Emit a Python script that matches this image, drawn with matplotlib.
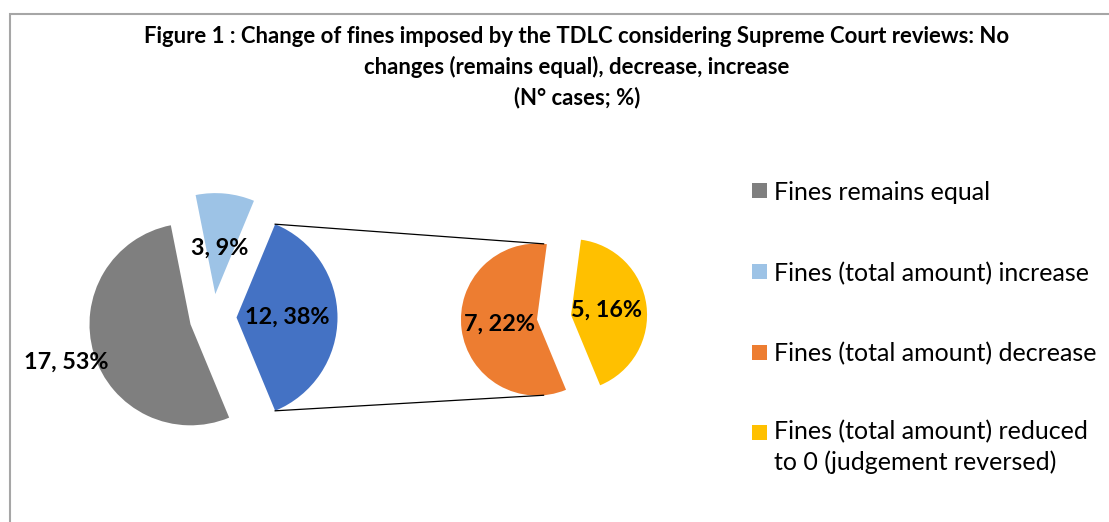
import math
import matplotlib
matplotlib.use('Agg')
import matplotlib.pyplot as plt
from matplotlib.patches import Rectangle

plt.rcParams['font.family'] = ['Lato', 'DejaVu Sans']

# data
categories = ['Fines remains equal',
              'Fines (total amount) increase',
              'Fines (total amount) decrease',
              'Fines (total amount) reduced\nto 0 (judgement reversed)']
cases = [17, 3, 7, 5]
colors = ['#7f7f7f', '#9dc3e6', '#ed7d31', '#ffc000']
other_color = '#4472c4'   # the "other" slice in the first pie = decrease + reduced to 0

total = sum(cases)
main_vals = [cases[0], cases[1], cases[2] + cases[3]]
main_colors = [colors[0], colors[1], other_color]
sub_vals = [cases[2], cases[3]]
sub_colors = [colors[2], colors[3]]


def lab(v):
    return f'{v}, {round(100 * v / total)}%'


W, H = 1109, 522
fig = plt.figure(figsize=(W / 100, H / 100), dpi=100)
ax = fig.add_axes([0, 0, 1, 1])

# first pie, the "other" slice centred on the right side
half_other = 180 * main_vals[2] / total
w_main, _ = ax.pie(main_vals, colors=main_colors, center=(213, H - 317.5), radius=101,
                   explode=[23.5] * 3, startangle=-half_other, counterclock=False,
                   wedgeprops=dict(linewidth=0), frame=True)

# second pie (breakdown of the other slice)
w_sub, _ = ax.pie(sub_vals, colors=sub_colors, center=(554, H - 317.3), radius=76,
                  explode=[17.2] * 2, startangle=82.5, counterclock=True,
                  wedgeprops=dict(linewidth=0), frame=True)

# data labels
def put_labels(wedges, vals, dists):
    for w, v, d in zip(wedges, vals, dists):
        tm = math.radians((w.theta1 + w.theta2) / 2)
        x = w.center[0] + d * w.r * math.cos(tm)
        y = w.center[1] + d * w.r * math.sin(tm)
        ax.text(x, y, lab(v), ha='center', va='center', fontsize=16.8, fontweight='bold')

put_labels(w_main, main_vals, [1.29, 0.46, 0.5])
put_labels(w_sub, sub_vals, [0.5, 0.47])

# connector lines from the other slice to the second pie
blue = w_main[2]
orange = w_sub[0]
for a_blue, a_or in [(max(blue.theta1, blue.theta2), 85), (min(blue.theta1, blue.theta2), 275)]:
    x0 = blue.center[0] + blue.r * math.cos(math.radians(a_blue))
    y0 = blue.center[1] + blue.r * math.sin(math.radians(a_blue))
    x1 = orange.center[0] + orange.r * math.cos(math.radians(a_or))
    y1 = orange.center[1] + orange.r * math.sin(math.radians(a_or))
    ax.plot([x0, x1], [y0, y1], color='black', lw=0.9)

# legend
leg_y = [190, 271.5, 352, 432]
for lbl, c, y in zip(categories, colors, leg_y):
    ax.add_patch(Rectangle((752, H - y - 7.5), 15, 15, color=c, lw=0))
    if '\n' in lbl:
        ax.text(774, H - y - 15, lbl, ha='left', va='center', fontsize=18,
                linespacing=1.33)
    else:
        ax.text(774, H - y, lbl, ha='left', va='center_baseline', fontsize=18)

# title
ax.text(577, H - 67, 'Figure 1 : Change of fines imposed by the TDLC considering Supreme Court reviews: No\n'
        'changes (remains equal), decrease, increase\n(N° cases; %)',
        ha='center', va='center', fontsize=15.9, fontweight='bold', linespacing=1.5)

# chart frame (runs past the right and bottom edges)
ax.add_patch(Rectangle((10, -20), W + 50, H - 13.5 + 20, fill=False, ec='#a6a6a6', lw=1.5))

ax.set_xlim(0, W)
ax.set_ylim(0, H)
ax.set_aspect('equal')
ax.axis('off')

plt.savefig('out.png', dpi=100)
